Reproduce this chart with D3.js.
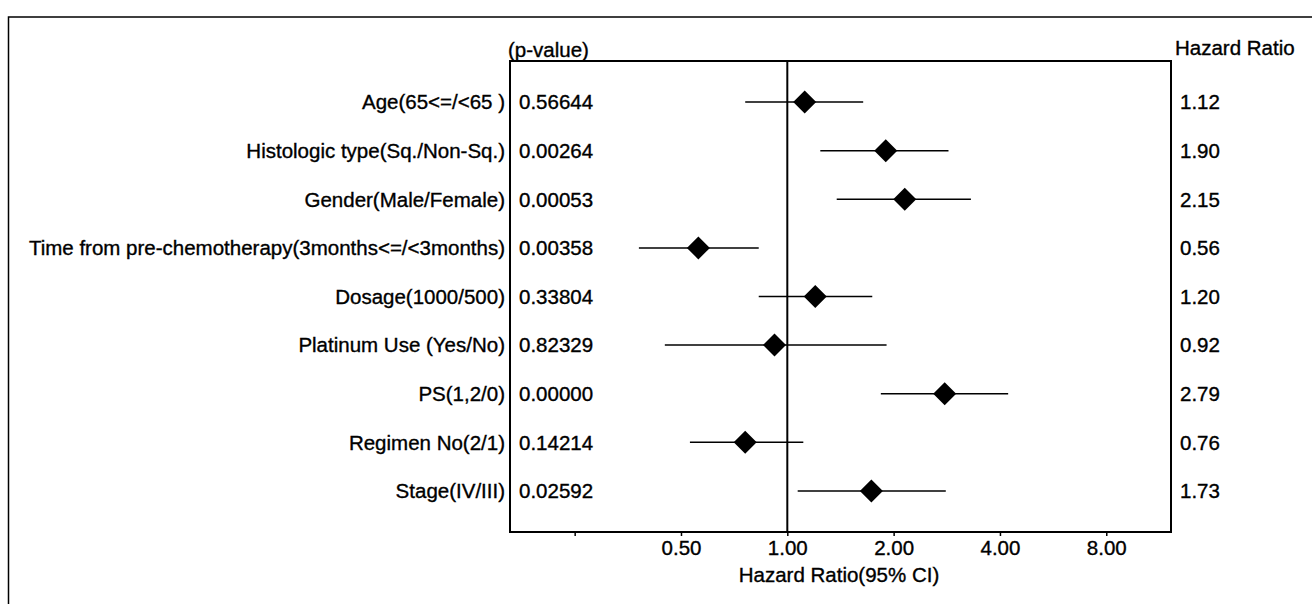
<!DOCTYPE html>
<html>
<head>
<meta charset="utf-8">
<script src="https://cdn.jsdelivr.net/npm/d3@7"></script>
<style>
  html, body { margin: 0; padding: 0; background: #fff; }
  svg { display: block; }
  text { font-family: "Liberation Sans", Arial, sans-serif; fill: #000; stroke: #000; stroke-width: 0.35px; }
</style>
</head>
<body>
<svg id="chart" width="1312" height="604"></svg>
<script>
const categories = [
  "Age(65<=/<65 )",
  "Histologic type(Sq./Non-Sq.)",
  "Gender(Male/Female)",
  "Time from pre-chemotherapy(3months<=/<3months)",
  "Dosage(1000/500)",
  "Platinum Use (Yes/No)",
  "PS(1,2/0)",
  "Regimen No(2/1)",
  "Stage(IV/III)"
];
const pValues = ["0.56644", "0.00264", "0.00053", "0.00358", "0.33804", "0.82329", "0.00000", "0.14214", "0.02592"];
const hazardRatios = [1.12, 1.90, 2.15, 0.56, 1.20, 0.92, 2.79, 0.76, 1.73];
const ciLower = [0.76, 1.24, 1.38, 0.38, 0.83, 0.45, 1.84, 0.53, 1.07];
const ciUpper = [1.64, 2.86, 3.31, 0.83, 1.74, 1.91, 4.22, 1.11, 2.81];
const hrLabels = ["1.12", "1.90", "2.15", "0.56", "1.20", "0.92", "2.79", "0.76", "1.73"];
const tickValues = [0.25, 0.5, 1, 2, 4, 8];
const tickLabels = ["", "0.50", "1.00", "2.00", "4.00", "8.00"];
const xDomain = [0.164, 12.2];
const referenceValue = 1;

const svg = d3.select("#chart");
const FS = "20.5px";

const box = { left: 510, right: 1171, top: 61, bottom: 532 };

// outer frame (left + top)
svg.append("path")
  .attr("d", `M8.5,604 L8.5,17 L1312,17`)
  .attr("fill", "none").attr("stroke", "#000").attr("stroke-width", 1.5);

const x = d3.scaleLog().base(2).domain(xDomain).range([box.left, box.right]);
const y = d3.scalePoint().domain(categories).range([box.top, box.bottom]).padding(0.845);

// plot box
svg.append("rect")
  .attr("x", box.left).attr("y", box.top)
  .attr("width", box.right - box.left).attr("height", box.bottom - box.top)
  .attr("fill", "none").attr("stroke", "#000").attr("stroke-width", 2);

// x axis
const axis = d3.axisBottom(x)
  .tickValues(tickValues)
  .tickFormat((d, i) => tickLabels[i])
  .tickSize(4).tickSizeOuter(0).tickPadding(4);
const gx = svg.append("g").attr("transform", `translate(0,${box.bottom})`).call(axis);
gx.select(".domain").remove();
gx.selectAll(".tick line").attr("stroke", "#000").attr("stroke-width", 1.5);
gx.selectAll(".tick text").style("font-size", FS).attr("fill", "#000")
  .attr("font-family", "Liberation Sans, Arial, sans-serif");

svg.append("text")
  .attr("x", 839).attr("y", 582)
  .attr("text-anchor", "middle").style("font-size", FS)
  .text("Hazard Ratio(95% CI)");

// reference line
svg.append("line")
  .attr("x1", x(referenceValue)).attr("x2", x(referenceValue))
  .attr("y1", box.top).attr("y2", box.bottom)
  .attr("stroke", "#000").attr("stroke-width", 2);

// headers
svg.append("text").attr("x", 508).attr("y", 57).style("font-size", FS).text("(p-value)");
svg.append("text").attr("x", 1175).attr("y", 55).style("font-size", FS).text("Hazard Ratio");

const rows = categories.map((c, i) => ({
  cat: c, p: pValues[i], hr: hazardRatios[i], lo: ciLower[i], hi: ciUpper[i], lab: hrLabels[i]
}));

const g = svg.append("g");
// labels
g.selectAll("text.cat").data(rows).join("text").attr("class", "cat")
  .attr("x", 505).attr("y", d => y(d.cat)).attr("dy", "0.36em")
  .attr("text-anchor", "end").style("font-size", FS).text(d => d.cat);
g.selectAll("text.pv").data(rows).join("text").attr("class", "pv")
  .attr("x", 519).attr("y", d => y(d.cat)).attr("dy", "0.36em")
  .style("font-size", FS).text(d => d.p);
g.selectAll("text.hr").data(rows).join("text").attr("class", "hr")
  .attr("x", 1180).attr("y", d => y(d.cat)).attr("dy", "0.36em")
  .style("font-size", FS).text(d => d.lab);

// CI lines
g.selectAll("line.ci").data(rows).join("line").attr("class", "ci")
  .attr("x1", d => x(d.lo)).attr("x2", d => x(d.hi))
  .attr("y1", d => y(d.cat)).attr("y2", d => y(d.cat))
  .attr("stroke", "#000").attr("stroke-width", 1.5);

// diamonds
const h = 11.5;
g.selectAll("path.dia").data(rows).join("path").attr("class", "dia")
  .attr("d", d => {
    const cx = x(d.hr), cy = y(d.cat);
    return `M${cx},${cy - h} L${cx + h},${cy} L${cx},${cy + h} L${cx - h},${cy} Z`;
  })
  .attr("fill", "#000");
</script>
</body>
</html>
